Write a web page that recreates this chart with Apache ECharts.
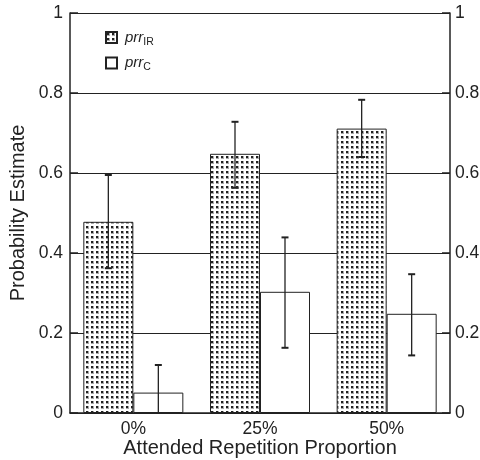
<!DOCTYPE html>
<html>
<head>
<meta charset="utf-8">
<script src="https://cdn.jsdelivr.net/npm/echarts@6/dist/echarts.min.js"></script>
<style>
  html, body { margin: 0; padding: 0; background: #fff; }
  #chart { width: 480px; height: 460px; }
</style>
</head>
<body>
<div id="chart"></div>
<script>
  // categories and values
  const categories = ['0%', '25%', '50%']
  const irMeans = [0.478, 0.648, 0.711]
  const irLow = [0.362, 0.563, 0.640]
  const irHigh = [0.595, 0.728, 0.783]
  const cMeans = [0.051, 0.303, 0.248]
  const cLow = [0, 0.163, 0.144]
  const cHigh = [0.120, 0.439, 0.347]

  const ink = '#222'
  const font = '"Liberation Sans", Arial, Helvetica, sans-serif'
  const barW = 50

  // dotted fill for the prr_IR bars
  const tile = document.createElement('canvas')
  tile.width = 5
  tile.height = 5
  const tctx = tile.getContext('2d')
  tctx.fillStyle = '#fff'
  tctx.fillRect(0, 0, 5, 5)
  tctx.fillStyle = '#aaa'
  tctx.fillRect(1, 1, 3, 3)
  tctx.fillStyle = '#222'
  tctx.fillRect(1, 1, 2, 2)
  const dots = { image: tile, repeat: 'repeat' }

  // error bar drawn at the centre of its bar (offset = half a bar)
  function errorBars(offset) {
    return function (params, api) {
      const x = api.coord([api.value(0), 0])[0] + offset
      const lo = api.coord([api.value(0), api.value(1)])[1]
      const hi = api.coord([api.value(0), api.value(2)])[1]
      const cap = 3.5
      return {
        type: 'group',
        children: [
          { type: 'line', shape: { x1: x, y1: lo, x2: x, y2: hi }, style: { stroke: ink, lineWidth: 1.3 } },
          { type: 'line', shape: { x1: x - cap, y1: hi, x2: x + cap, y2: hi }, style: { stroke: ink, lineWidth: 2 } },
          { type: 'line', shape: { x1: x - cap, y1: lo, x2: x + cap, y2: lo }, style: { stroke: ink, lineWidth: 2 } },
        ],
      }
    }
  }

  const yAxisBase = {
    type: 'value',
    min: 0,
    max: 1,
    interval: 0.2,
    axisLine: { show: true, lineStyle: { color: ink, width: 1.5 } },
    axisTick: { show: true, inside: true, length: 8, lineStyle: { color: ink, width: 1.5 } },
    axisLabel: { color: ink, fontSize: 17.5, fontFamily: font },
  }

  const option = {
    animation: false,
    backgroundColor: '#fff',
    grid: { left: 70, right: 30, top: 13, bottom: 47, outerBoundsMode: 'none' },
    legend: {
      data: ['prrIR', 'prrC'],
      orient: 'vertical',
      left: 105,
      top: 30,
      padding: 0,
      itemWidth: 11,
      itemHeight: 11,
      itemGap: 8,
      icon: 'rect',
      formatter: function (name) {
        return name === 'prrIR' ? '{i|prr}{s|IR}' : '{i|prr}{s|C}'
      },
      textStyle: {
        color: ink,
        fontFamily: font,
        rich: {
          i: { fontSize: 15, fontStyle: 'italic', lineHeight: 20, padding: [0, 0, 0, 3], color: ink, fontFamily: font },
          s: { fontSize: 10.5, lineHeight: 14, verticalAlign: 'bottom', color: ink, fontFamily: font },
        },
      },
    },
    xAxis: {
      type: 'category',
      data: categories,
      axisLine: { lineStyle: { color: ink, width: 1.5 } },
      axisTick: { show: false },
      axisLabel: { color: ink, fontSize: 17.5, fontFamily: font, margin: 7 },
      name: 'Attended Repetition Proportion',
      nameLocation: 'middle',
      nameGap: 25,
      nameMoveOverlap: false,
      nameTextStyle: { color: ink, fontSize: 20, fontFamily: font },
    },
    yAxis: [
      Object.assign({}, yAxisBase, {
        position: 'left',
        name: 'Probability Estimate',
        nameLocation: 'middle',
        nameGap: 42,
        nameMoveOverlap: false,
        nameTextStyle: { color: ink, fontSize: 20, fontFamily: font },
        axisLabel: Object.assign({}, yAxisBase.axisLabel, { margin: 7 }),
        splitLine: { show: true, lineStyle: { color: ink, width: 1 } },
      }),
      Object.assign({}, yAxisBase, {
        position: 'right',
        axisLabel: Object.assign({}, yAxisBase.axisLabel, { margin: 5 }),
        splitLine: { show: false },
      }),
    ],
    series: [
      {
        name: 'prrIR',
        type: 'bar',
        data: irMeans,
        barWidth: barW,
        barGap: 0,
        itemStyle: { color: dots, borderColor: ink, borderWidth: 1 },
      },
      {
        name: 'prrC',
        type: 'bar',
        data: cMeans,
        barWidth: barW,
        barGap: 0,
        itemStyle: { color: '#fff', borderColor: ink, borderWidth: 1 },
      },
      {
        type: 'custom',
        z: 5,
        renderItem: errorBars(-barW / 2),
        encode: { x: 0, y: [1, 2] },
        data: categories.map((c, i) => [i, irLow[i], irHigh[i]]),
      },
      {
        type: 'custom',
        z: 5,
        renderItem: errorBars(barW / 2),
        encode: { x: 0, y: [1, 2] },
        data: categories.map((c, i) => [i, cLow[i], cHigh[i]]),
      },
    ],
  }

  const myChart = echarts.init(document.getElementById('chart'))
  myChart.setOption(option)
</script>
</body>
</html>
